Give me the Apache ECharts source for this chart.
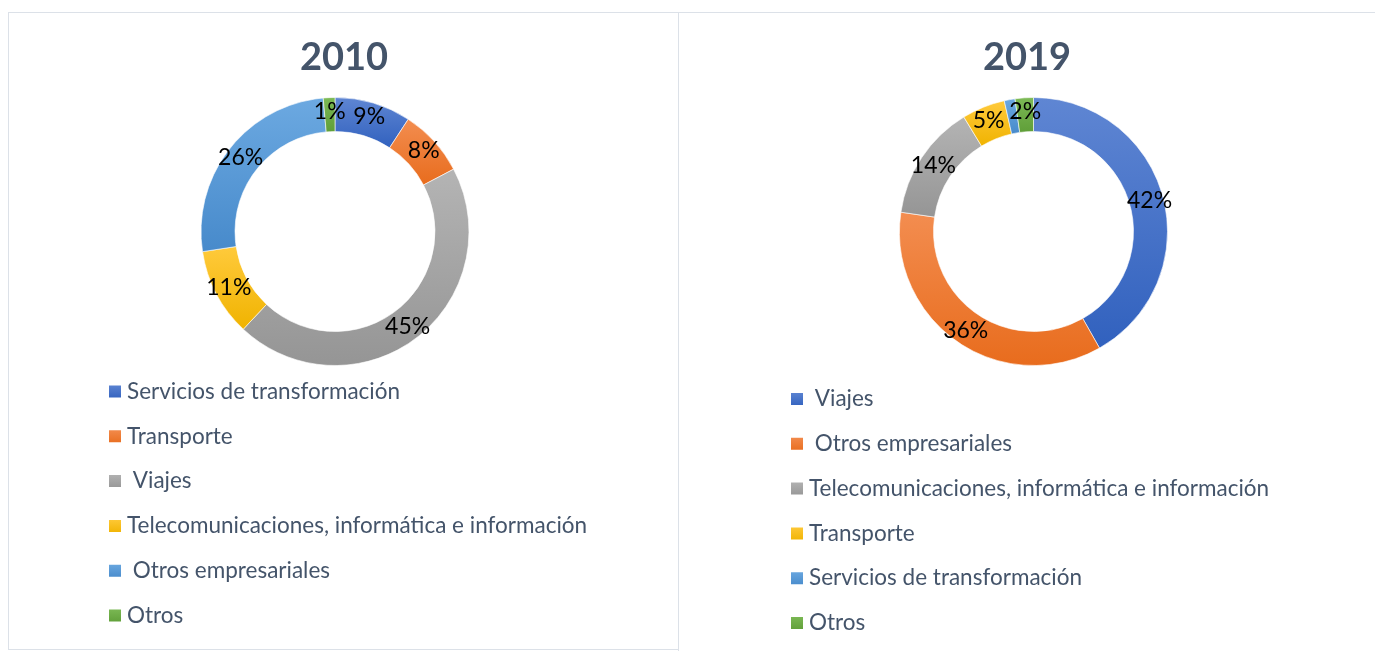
<!DOCTYPE html>
<html>
<head>
<meta charset="utf-8">
<script src="https://cdn.jsdelivr.net/npm/echarts@6/dist/echarts.min.js"></script>
<style>
  html, body { margin: 0; padding: 0; background: #fff; }
  .panel { position: absolute; border: 1px solid #dce1e8; box-sizing: border-box; }
  .chart { position: absolute; top: 0; height: 651px; }
</style>
</head>
<body>
<div class="panel" style="left:8px;top:12px;width:671px;height:638px;"></div>
<div class="panel" style="left:678px;top:12px;width:720px;height:660px;"></div>
<div id="c2010" class="chart" style="left:0;width:678px;"></div>
<div id="c2019" class="chart" style="left:678px;width:697px;"></div>
<script>
// 2010
var cats2010 = ['Servicios de transformación', 'Transporte', ' Viajes',
  'Telecomunicaciones, informática e información', ' Otros empresariales', 'Otros'];
var vals2010 = [9.2, 8.1, 44.7, 10.6, 26.0, 1.4];

// 2019
var cats2019 = [' Viajes', ' Otros empresariales', 'Telecomunicaciones, informática e información',
  'Transporte', 'Servicios de transformación', 'Otros'];
var vals2019 = [41.8, 35.5, 14.0, 5.2, 1.3, 2.2];

// office palette, top / bottom of the gradient
var palette = [
  ['#5f86d3', '#3161be'],
  ['#f38d50', '#e86c1d'],
  ['#b4b4b4', '#959595'],
  ['#ffca3c', '#f0b300'],
  ['#6ca9e1', '#478acb'],
  ['#7dba56', '#5f9e38']
];

var FONT = 'Lato, "Open Sans", sans-serif';

function makeOption(title, titleX, cx, cats, vals, legendLeft, legendTop) {
  return {
    animation: false,
    graphic: [{
      type: 'text', x: titleX, y: 58,
      style: {
        text: title, fill: '#44546a', font: 'bold 38px ' + FONT,
        textAlign: 'center', textVerticalAlign: 'middle'
      }
    }],
    legend: {
      orient: 'vertical',
      left: legendLeft, top: legendTop,
      icon: 'rect', itemWidth: 14, itemHeight: 14,
      itemGap: 21.8,
      data: cats,
      textStyle: { color: '#44546a', fontFamily: FONT, fontSize: 22.5, lineHeight: 22 }
    },
    series: [{
      type: 'pie',
      center: [cx, 231.5],
      radius: [100, 134],
      startAngle: 90,
      clockwise: true,
      emphasis: { scale: false },
      label: {
        position: 'inside',
        color: '#000', fontFamily: FONT, fontSize: 23,
        formatter: function (p) { return Math.round(p.percent) + '%'; }
      },
      labelLine: { show: false },
      data: cats.map(function (c, i) {
        return {
          name: c, value: vals[i],
          itemStyle: {
            color: new echarts.graphic.LinearGradient(0, 0, 0, 1, [
              { offset: 0, color: palette[i][0] },
              { offset: 1, color: palette[i][1] }
            ]),
            borderColor: '#fff', borderWidth: 0.6
          }
        };
      })
    }]
  };
}

var chartA = echarts.init(document.getElementById('c2010'));
chartA.setOption(makeOption('2010', 344, 335, cats2010, vals2010, 102, 375));

var chartB = echarts.init(document.getElementById('c2019'));
chartB.setOption(makeOption('2019', 349, 355.5, cats2019, vals2019, 106, 382.5));
</script>
</body>
</html>
